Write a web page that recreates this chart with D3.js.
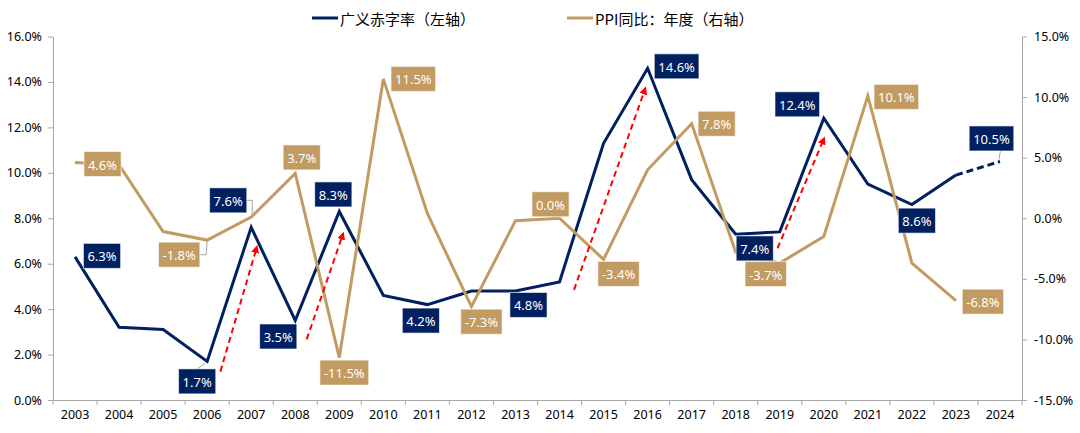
<!DOCTYPE html>
<html><head><meta charset="utf-8">
<script src="https://cdn.jsdelivr.net/npm/d3@7"></script>
<style>body{margin:0;background:#fff}svg{display:block}</style>
</head><body><svg id="c" width="1080" height="433"></svg>
<script>
const years = ["2003","2004","2005","2006","2007","2008","2009","2010","2011","2012","2013","2014","2015","2016","2017","2018","2019","2020","2021","2022","2023","2024"];
const deficit = [6.3,3.2,3.1,1.7,7.6,3.5,8.3,4.6,4.2,4.8,4.8,5.2,11.3,14.6,9.7,7.3,7.4,12.4,9.5,8.6,9.9,10.5];
const ppi = [4.6,4.4,-1.1,-1.8,0.1,3.7,-11.5,11.5,0.4,-7.3,-0.2,0.0,-3.4,4.0,7.8,-2.8,-3.7,-1.5,10.1,-3.7,-6.8];
const leftTicks = [0,2,4,6,8,10,12,14,16];
const rightTicks = [-15,-10,-5,0,5,10,15];
const seriesNames = ["广义赤字率（左轴）","PPI同比：年度（右轴）"];
const deficitLabelYears = ["2003","2006","2007","2008","2009","2011","2013","2016","2019","2020","2022","2024"];
const ppiLabelYears = ["2003","2006","2008","2009","2010","2012","2014","2015","2017","2019","2021","2023"];
// arrows: [startIndex, startValue(left axis), endIndex, endValue]
const arrows = [[3.3,1.25,4.13,6.75],[5.26,2.67,6.09,7.34],[11.33,4.85,12.95,13.73],[15.95,6.68,17.01,11.53]];

// layout (pixel offsets of label boxes relative to their points)
const defOff = {"2003":[27,-1],"2006":[-10,20],"2007":[-23,-27],"2008":[-17,16],"2009":[-6,-17],"2011":[-6.5,16],"2013":[13,14],"2016":[29,-2],"2019":[-25,16.5],"2020":[-26.5,-14],"2022":[5,16],"2024":[-8.5,-23]};
const ppiOff = {"2003":[27.5,1.5],"2006":[-28,14.6],"2008":[6.5,-16],"2009":[5,15],"2010":[30,0],"2012":[10,15],"2014":[-9,-14],"2015":[15,14.5],"2017":[25,0],"2019":[-14,11],"2021":[28.5,1],"2023":[27,1]};

const NAVY = "#002060", GOLD = "#C29B62", AX = "#A6A6A6";
const FONT = "'Noto Sans','Open Sans',sans-serif";
const svg = d3.select("#c");
const L = 53, R = 1022, T = 36.5, B = 400;
const x = d3.scaleBand(years, [L, R]);
const cx = d => x(d) + x.bandwidth()/2;
const xi = d3.scaleLinear([0, years.length-1], [cx(years[0]), cx(years[years.length-1])]);
const yL = d3.scaleLinear([0,16],[B,T]);
const yR = d3.scaleLinear([-15,15],[B,T]);
const pf = v => (Math.abs(v) < 1e-9 ? 0 : v).toFixed(1);

// axes
const gl = svg.append("g").attr("transform",`translate(${L},0)`)
  .call(d3.axisLeft(yL).tickValues(leftTicks).tickSize(5).tickSizeOuter(0).tickFormat(v=>pf(v)+"%"));
const gr = svg.append("g").attr("transform",`translate(${R},0)`)
  .call(d3.axisRight(yR).tickValues(rightTicks).tickSize(5).tickSizeOuter(0).tickFormat(v=>pf(v)+"%"));
const gb = svg.append("g").attr("transform",`translate(0,${B})`)
  .call(d3.axisBottom(x).tickSize(0).tickSizeOuter(0));
gb.selectAll(".tick text").attr("dy","1.25em");
gb.selectAll(".bt").data(years.concat(["end"])).enter().append("line")
  .attr("x1",d=>d==="end"?R:x(d)).attr("x2",d=>d==="end"?R:x(d)).attr("y1",0).attr("y2",5).attr("stroke",AX);
[gl,gr,gb].forEach(g=>{
  g.selectAll("path,line").attr("stroke",AX);
  g.selectAll("text").attr("font-family",FONT).attr("font-size","12.5px").attr("fill","#000");
});
gl.selectAll(".tick text").attr("x",-11);
gr.selectAll(".tick text").attr("x",12);

// lines
const defPts = years.map((y,i)=>[cx(y), yL(deficit[i])]);
const line = d3.line();
svg.append("path").attr("d",line(defPts.slice(0,years.length-1))).attr("fill","none").attr("stroke",NAVY).attr("stroke-width",3).attr("stroke-linejoin","miter");
svg.append("path").attr("d",line(defPts.slice(years.length-2))).attr("fill","none").attr("stroke",NAVY).attr("stroke-width",3).attr("stroke-dasharray","7,4");
const ppiPts = ppi.map((v,i)=>[cx(years[i]), yR(v)]);
svg.append("path").attr("d",line(ppiPts)).attr("fill","none").attr("stroke",GOLD).attr("stroke-width",3);

// arrows
const defs = svg.append("defs");
defs.append("marker").attr("id","ah").attr("viewBox","0 0 10 10").attr("refX",8).attr("refY",5)
  .attr("markerWidth",4).attr("markerHeight",4).attr("orient","auto")
  .append("path").attr("d","M0,0L10,5L0,10z").attr("fill","#FF0000");
svg.selectAll(".arr").data(arrows).enter().append("line")
  .attr("x1",d=>xi(d[0])).attr("y1",d=>yL(d[1])).attr("x2",d=>xi(d[2])).attr("y2",d=>yL(d[3]))
  .attr("stroke","#FF0000").attr("stroke-width",2).attr("stroke-dasharray","6,4").attr("marker-end","url(#ah)");

// labels
function addLabel(px, py, off, text, fill, leader){
  const g = svg.append("g");
  const t = g.append("text").attr("font-family",FONT).attr("font-size","13px").attr("fill","#fff")
    .attr("text-anchor","middle").attr("dominant-baseline","central")
    .attr("x",px+off[0]).attr("y",py+off[1]+0.5).text(text);
  const w = t.node().getComputedTextLength()+8, h = 25;
  const bx = px+off[0]-w/2, by = py+off[1]-h/2;
  if(leader) svg.insert("path", () => g.node()).attr("d",leader(bx,by,w,h)).attr("fill","none").attr("stroke",AX).attr("stroke-width",1);
  g.insert("rect","text").attr("x",bx).attr("y",by).attr("width",w).attr("height",h).attr("fill",fill)
    .attr("stroke","rgba(255,255,255,0.6)").attr("stroke-width",1);
}
const defLeaders = {
  "2006": (px,py)=> (bx,by,w,h)=>`M${bx+w*0.5},${by}L${px-2},${py+2}`,
  "2007": (px,py)=> (bx,by,w,h)=>`M${bx+w},${by+h/2}L${px+1},${by+h/2}L${px+1},${py-11}`,
  "2024": (px,py)=> (bx,by,w,h)=>`M${bx+w*0.7},${by+h}L${px-1},${py-2}`
};
const ppiLeaders = {
  "2006": (px,py)=> (bx,by,w,h)=>`M${bx+w},${by+h/2}L${px-1},${by+h/2}L${px},${py+1}`
};
deficitLabelYears.forEach(y=>{
  const i = years.indexOf(y), px = cx(y), py = yL(deficit[i]);
  addLabel(px,py,defOff[y],pf(deficit[i])+"%",NAVY, defLeaders[y]?defLeaders[y](px,py):null);
});
ppiLabelYears.forEach(y=>{
  const i = years.indexOf(y), px = cx(y), py = yR(ppi[i]);
  addLabel(px,py,ppiOff[y],pf(ppi[i])+"%",GOLD, ppiLeaders[y]?ppiLeaders[y](px,py):null);
});

// legend
const legend = [[312,NAVY],[567,GOLD]];
legend.forEach((d,i)=>{
  svg.append("line").attr("x1",d[0]).attr("x2",d[0]+26).attr("y1",18).attr("y2",18).attr("stroke",d[1]).attr("stroke-width",3);
  svg.append("text").attr("x",d[0]+28).attr("y",18).attr("dominant-baseline","central")
    .attr("font-family","'Noto Sans CJK SC','Noto Sans',sans-serif").attr("font-size","15px").attr("fill","#000").text(seriesNames[i]);
});
</script></body></html>
